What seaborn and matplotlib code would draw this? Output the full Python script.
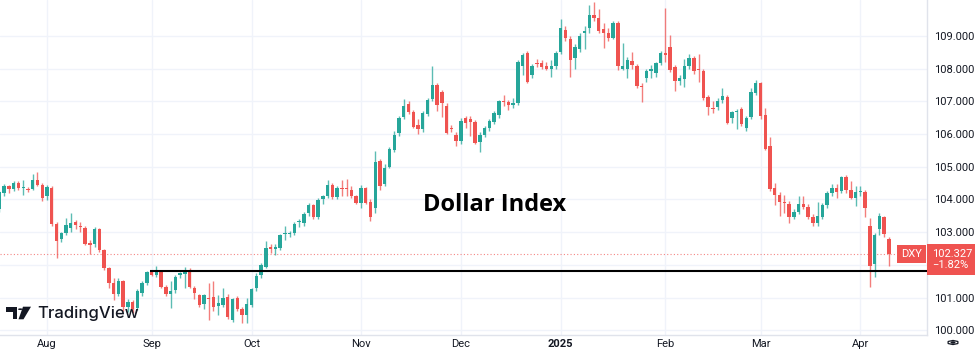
import numpy as np
import pandas as pd
import seaborn as sns
import matplotlib.pyplot as plt
from matplotlib.patches import Polygon, Circle, RegularPolygon

# daily bars shown on the chart (no bars on Dec 25 and Jan 1)
dates = pd.bdate_range('2024-07-18', '2025-04-09')
dates = dates[~dates.isin(pd.to_datetime(['2024-12-25', '2025-01-01']))]

# one row per month: Jul, Aug, Sep, Oct, Nov, Dec, Jan, Feb, Mar, Apr
opens = [
    103.70, 104.20, 104.41, 104.32, 104.50, 104.36, 104.33, 104.32, 104.60, 104.44,
    104.10, 104.34, 103.25, 102.80, 102.99, 103.12, 103.32, 103.20, 103.12, 102.66, 102.64, 103.09, 102.46, 101.90, 101.44, 101.10, 101.50, 100.72, 100.88, 100.68, 101.15, 101.44,
    101.80, 101.70, 101.80, 101.33, 101.10, 101.22, 101.70, 101.72, 101.85, 101.28, 101.08, 100.80, 101.00, 101.03, 100.74, 100.77, 101.03, 100.32, 100.99, 100.65, 100.47,
    100.77, 101.29, 101.70, 101.94, 102.55, 102.50, 102.53, 102.93, 102.94, 102.97, 103.30, 103.29, 103.58, 103.83, 103.47, 104.00, 104.10, 104.44, 104.09, 104.36, 104.35, 104.29, 104.10,
    103.88, 104.36, 103.93, 103.73, 105.18, 104.47, 104.99, 105.51, 106.03, 106.52, 106.92, 106.68, 106.28, 106.16, 106.61, 107.07, 107.50, 107.30, 106.85, 106.20, 105.97,
    105.79, 106.49, 106.45, 106.38, 105.77, 105.97, 106.19, 106.38, 106.58, 107.00, 106.98, 106.90, 106.95, 108.09, 108.49, 107.81, 108.17, 108.18, 108.09, 108.00, 108.09,
    108.52, 109.18, 108.90, 108.32, 108.60, 109.10, 109.24, 109.64, 109.55, 109.20, 109.10, 108.94, 109.41, 108.00, 108.00, 108.24, 108.08, 107.48, 107.70, 107.93, 107.87, 108.17,
    108.49, 108.67, 108.05, 107.62, 107.68, 108.09, 108.34, 108.00, 107.93, 107.13, 106.80, 106.82, 107.04, 107.14, 106.48, 106.66, 106.77, 106.19, 106.53, 107.25,
    107.56, 106.58, 105.64, 104.34, 104.14, 103.92, 103.86, 103.46, 103.63, 103.86, 103.78, 103.46, 103.29, 103.47, 103.83, 104.20, 104.35, 104.27, 104.70, 104.29, 104.04,
    104.22, 104.24, 103.19, 102.03, 103.10, 103.46, 102.79,
]
highs = [
    104.25, 104.48, 104.45, 104.55, 104.58, 104.60, 104.38, 104.78, 104.84, 104.50,
    104.45, 104.42, 103.30, 103.00, 103.43, 103.60, 103.38, 103.30, 103.20, 102.75, 103.15, 103.12, 102.50, 101.95, 101.60, 101.60, 101.55, 100.95, 100.92, 101.25, 101.50, 101.82,
    101.85, 101.97, 101.85, 101.40, 101.50, 101.70, 101.78, 101.95, 101.90, 101.35, 101.12, 101.10, 101.45, 101.50, 101.08, 101.29, 101.10, 101.00, 101.05, 100.70, 101.00,
    101.30, 101.75, 102.05, 102.74, 102.65, 102.65, 102.95, 103.20, 103.05, 103.32, 103.40, 103.62, 103.90, 103.87, 104.05, 104.15, 104.60, 104.50, 104.40, 104.60, 104.63, 104.40, 104.15,
    104.45, 104.38, 104.00, 105.48, 105.25, 105.10, 105.60, 106.10, 106.55, 107.07, 107.00, 106.75, 106.45, 106.72, 107.10, 108.08, 107.55, 107.35, 106.95, 106.28, 106.05,
    106.50, 106.55, 106.55, 106.42, 106.05, 106.25, 106.45, 106.70, 107.05, 107.18, 107.05, 107.10, 108.27, 108.49, 108.55, 108.15, 108.30, 108.25, 108.20, 108.25, 108.55,
    109.52, 109.30, 109.00, 108.75, 109.10, 109.30, 109.95, 110.05, 109.82, 109.40, 109.25, 109.45, 109.45, 108.78, 108.35, 108.50, 108.15, 107.55, 107.98, 108.10, 108.20, 108.55,
    109.85, 109.03, 108.10, 107.80, 108.30, 108.45, 108.40, 108.45, 108.00, 107.20, 107.00, 107.10, 107.41, 107.20, 106.70, 106.78, 106.82, 106.55, 107.40, 107.65,
    107.60, 106.80, 105.90, 104.50, 104.24, 104.15, 103.95, 103.70, 104.10, 104.12, 103.85, 103.55, 103.93, 103.90, 104.25, 104.47, 104.47, 104.72, 104.75, 104.58, 104.40,
    104.40, 104.28, 103.43, 102.98, 103.60, 103.50, 102.85,
]
lows = [
    103.62, 104.12, 104.20, 104.25, 104.30, 104.14, 104.24, 104.29, 104.40, 103.95,
    103.97, 103.20, 102.20, 102.70, 102.90, 103.00, 103.10, 103.00, 102.60, 102.32, 102.55, 102.40, 101.85, 101.30, 100.92, 101.05, 100.60, 100.55, 100.52, 100.62, 101.05, 101.38,
    101.65, 101.62, 101.30, 101.05, 100.68, 101.15, 101.60, 101.30, 101.30, 100.95, 100.72, 100.65, 100.30, 100.60, 100.47, 100.70, 100.35, 100.25, 100.60, 100.22, 100.23,
    100.72, 101.20, 101.60, 101.90, 102.35, 102.30, 102.45, 102.75, 102.85, 102.92, 103.15, 103.20, 103.50, 103.40, 103.40, 103.85, 104.05, 104.00, 104.00, 104.10, 104.10, 104.05, 103.85,
    103.75, 103.85, 103.35, 103.60, 104.30, 104.40, 104.95, 105.45, 105.95, 106.45, 106.60, 106.20, 106.00, 106.05, 106.55, 107.00, 106.70, 106.52, 106.00, 106.05, 105.65,
    105.70, 106.20, 105.95, 105.70, 105.46, 105.90, 106.10, 106.30, 106.50, 106.85, 106.75, 106.80, 106.90, 107.81, 107.55, 107.70, 108.05, 108.00, 107.95, 107.75, 108.00,
    108.45, 108.85, 107.76, 108.00, 108.50, 108.60, 109.10, 109.45, 109.10, 108.63, 108.85, 108.90, 107.95, 107.95, 107.70, 108.00, 107.40, 106.99, 107.60, 107.70, 107.75, 108.10,
    108.20, 107.90, 107.33, 107.50, 107.45, 108.00, 107.85, 107.60, 107.05, 106.58, 106.65, 106.75, 106.95, 106.30, 106.35, 106.15, 106.25, 106.10, 106.45, 107.20,
    106.45, 105.50, 104.25, 103.83, 103.50, 103.60, 103.28, 103.40, 103.55, 103.70, 103.40, 103.20, 103.20, 103.40, 103.75, 104.10, 104.05, 104.20, 104.20, 104.00, 103.80,
    104.10, 103.45, 101.33, 101.63, 102.90, 102.85, 101.97,
]
closes = [
    104.22, 104.40, 104.31, 104.50, 104.34, 104.38, 104.30, 104.60, 104.44, 104.05,
    104.37, 103.25, 102.72, 102.97, 103.22, 103.27, 103.22, 103.15, 102.64, 102.62, 103.09, 102.46, 101.90, 101.44, 101.10, 101.50, 100.72, 100.88, 100.66, 101.20, 101.44, 101.78,
    101.70, 101.83, 101.33, 101.10, 101.20, 101.64, 101.75, 101.82, 101.32, 101.15, 100.77, 101.08, 100.97, 100.70, 100.83, 101.00, 100.42, 100.97, 100.65, 100.47, 100.80,
    101.26, 101.66, 102.00, 102.53, 102.50, 102.54, 102.91, 102.96, 102.97, 103.25, 103.35, 103.55, 103.83, 103.47, 103.98, 104.10, 104.44, 104.07, 104.36, 104.33, 104.32, 104.12, 103.90,
    104.36, 103.90, 103.47, 105.16, 104.40, 104.96, 105.54, 105.97, 106.50, 106.86, 106.67, 106.23, 106.16, 106.65, 107.04, 107.50, 106.89, 106.95, 106.04, 106.17, 105.79,
    106.40, 106.35, 106.37, 105.74, 105.97, 106.19, 106.40, 106.64, 107.02, 106.98, 106.88, 106.95, 108.21, 108.42, 107.60, 108.08, 108.15, 108.06, 108.00, 108.08, 108.47,
    109.24, 108.94, 108.27, 108.67, 109.00, 109.15, 109.64, 109.55, 109.15, 109.10, 108.95, 109.40, 108.08, 108.08, 108.27, 108.10, 107.47, 107.45, 107.93, 107.98, 108.17, 108.49,
    108.42, 107.96, 107.62, 107.70, 108.08, 108.34, 107.93, 107.97, 107.10, 106.83, 106.76, 107.02, 107.17, 106.33, 106.66, 106.72, 106.30, 106.49, 107.30, 107.56,
    106.56, 105.54, 104.31, 104.14, 103.93, 103.88, 103.46, 103.63, 103.86, 103.78, 103.46, 103.29, 103.50, 103.83, 104.20, 104.35, 104.24, 104.70, 104.29, 104.04, 104.23,
    104.25, 103.73, 101.97, 102.91, 103.50, 102.94, 102.33,
]

last_price = 102.327
last_change = '−1.82%'
support_level = 101.81
support_from = '2024-09-02'
price_ticks = [100, 101, 102, 103, 104, 105, 106, 107, 108, 109]

df = pd.DataFrame({'date': dates, 'open': opens, 'high': highs, 'low': lows, 'close': closes})
df['i'] = np.arange(len(df))
up_col, down_col = '#26a69a', '#ef5350'
df['color'] = np.where(df.close >= df.open, up_col, down_col)

sns.set_style('white')
plt.rcParams['font.family'] = ['Roboto', 'DejaVu Sans']

fig = plt.figure(figsize=(9.75, 3.53), dpi=100)
ax = fig.add_axes([0, 18 / 353, 927 / 975, 335 / 353])

# wicks + bodies
ax.vlines(df.i, df.low, df.high, colors=df.color, lw=1, alpha=0.75, zorder=2)
body = (df.close - df.open).abs().clip(lower=0.03)
ax.bar(df.i, body, bottom=df[['open', 'close']].min(axis=1), width=0.72,
       color=df.color, linewidth=0, zorder=3)

ax.set_xlim(0.12, 195.0)
ax.set_ylim(99.856, 110.10)

# month ticks at the first bar of each month
first = df.groupby(df.date.dt.to_period('M')).i.first()
labels = [p.strftime('%b') if p.month != 1 else str(p.year) for p in first.index]
keep = first.values > 3
ax.set_xticks(first.values[keep])
ax.set_xticklabels(np.array(labels)[keep])
for t in ax.get_xticklabels():
    if t.get_text() == '2025':
        t.set_fontweight('bold')
ax.tick_params(axis='x', length=0, pad=3, labelsize=8, labelcolor='#131722')

# price scale; the 102 label sits under the last-price tag
ax.yaxis.tick_right()
ax.set_yticks(price_ticks)
ax.set_yticklabels(['' if abs(v - last_price) < 0.5 else f'{v:.3f}' for v in price_ticks])
ax.tick_params(axis='y', length=0, pad=5, labelsize=8, labelcolor='#131722')

ax.grid(True, color='#f0f3fa', lw=1)
ax.set_axisbelow(True)
sns.despine(ax=ax, left=True, top=True, right=False, bottom=False)
for s in ['right', 'bottom']:
    ax.spines[s].set_color('#e0e3eb')
    ax.spines[s].set_linewidth(1)

# last price line and support line
ax.axhline(last_price, color=down_col, lw=0.8, ls=(0, (1, 2)), alpha=0.7, zorder=1)
x0 = df.loc[df.date == support_from, 'i'].iloc[0] - 0.4
ax.hlines(support_level, x0, ax.get_xlim()[1], color='black', lw=1.5, zorder=4)

# price labels on the scale
ax.annotate(f'{last_price:.3f}\n{last_change}', xy=(1, last_price),
            xycoords=('axes fraction', 'data'), xytext=(5, 5), textcoords='offset pixels',
            ha='left', va='top', color='white', fontsize=8, linespacing=1.1,
            bbox=dict(boxstyle='square,pad=0.45', fc=down_col, ec='none'),
            annotation_clip=False, zorder=10)
ax.annotate('DXY', xy=(1, last_price), xycoords=('axes fraction', 'data'),
            xytext=(-5, 0), textcoords='offset pixels', ha='right', va='center',
            color='white', fontsize=8,
            bbox=dict(boxstyle='square,pad=0.35', fc=down_col, ec='none'),
            annotation_clip=False, zorder=10)

ax.text(0.533, 0.3716, 'Dollar Index', transform=ax.transAxes, ha='center',
        va='baseline', fontsize=17, fontweight='bold', family=['Open Sans', 'DejaVu Sans'],
        color='black')

# TradingView watermark
def px(x, y):
    return (x / 975, 1 - y / 353)

logo = '#131722'
fig.add_artist(Polygon([px(6, 306.7), px(17.3, 306.7), px(17.3, 319.3), px(12.7, 319.3),
                        px(12.7, 311.7), px(6, 311.7)], closed=True, transform=fig.transFigure,
                       fc=logo, ec='none'))
fig.add_artist(Circle(px(20.3, 309.2), 2.3 / 975, transform=fig.transFigure, fc=logo, ec='none'))
fig.add_artist(Polygon([px(23, 306.7), px(31, 306.7), px(23.5, 319.3), px(18.5, 319.3)],
                       closed=True, transform=fig.transFigure, fc=logo, ec='none'))
fig.text(*px(37, 313.5), 'TradingView', fontsize=12, fontweight='medium', color=logo,
         va='center', ha='left', family=['Inter', 'DejaVu Sans'])

# settings icon under the price scale
fig.add_artist(RegularPolygon(px(953, 342.5), 6, radius=0.0058, orientation=0,
                              transform=fig.transFigure, fc='none', ec=logo, lw=0.9))
fig.add_artist(Circle(px(953, 342.5), 1.8 / 975, transform=fig.transFigure, fc='none',
                      ec=logo, lw=0.9))

fig.savefig('out.png', dpi=100)
